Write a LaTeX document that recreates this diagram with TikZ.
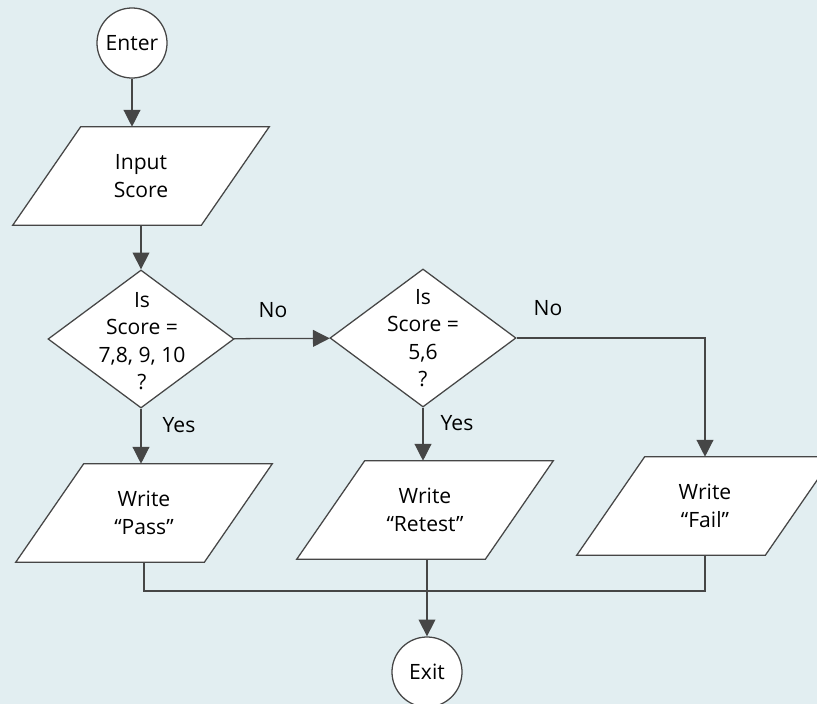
\documentclass[tikz,border=0pt]{standalone}
\usepackage{fontspec}
\setmainfont{Open Sans}
\usepackage{tikz}
\usetikzlibrary{shapes.geometric, arrows.meta, backgrounds}

\definecolor{paper}{RGB}{226,238,241}
\definecolor{ink}{RGB}{70,70,70}

\tikzset{
  terminal/.style={circle, draw=ink, fill=white, line width=0.9pt, minimum size=1.75cm, inner sep=0pt},
  decision/.style={diamond, draw=ink, fill=white, line width=0.9pt, minimum width=4.65cm, minimum height=3.45cm, inner sep=0pt},
  iotext/.style={rectangle, minimum width=4.7cm, minimum height=2.45cm, inner sep=0pt, align=center},
  iobox/.style={draw=ink, fill=white, line width=0.9pt},
  link/.style={draw=ink, line width=0.9pt},
  flow/.style={link, -{Triangle[length=0.42cm, width=0.42cm]}},
}

\begin{document}
\begin{tikzpicture}[x=0.025cm, y=-0.025cm, font=\fontsize{15}{19.5}\selectfont]
  \useasboundingbox (0,0) rectangle (817,704);
  % start and read
  \node[terminal] (enter) at (132,43) {Enter};
  \node[iotext] (input) at (141,176) {Input\\Score};
  % the two tests
  \node[decision] (isgood) at (141,339) {};
  \node[align=center] (isgoodq) at (142,341) {Is\\Score =\\7,8, 9, 10\\?};
  \node[decision] (isfair) at (423,338) {};
  \node[align=center] (isfairq) at (423,338) {Is\\Score =\\5,6\\?};
  % outputs
  \node[iotext] (pass) at (144,513) {Write\\``Pass''};
  \node[iotext] (retest) at (425,510) {Write\\``Retest''};
  \node[iotext] (fail) at (705,506) {Write\\``Fail''};
  \node[terminal] (exit) at (427,672) {Exit};
  % branch labels
  \node (no1) at (273,310) {No};
  \node (no2) at (548,308) {No};
  \node (yes1) at (179,425) {Yes};
  \node (yes2) at (457,423) {Yes};
  \coordinate (join) at (427,591);

  \begin{scope}[on background layer]
    \fill[paper] (0,0) rectangle (817,704);
    \foreach \io in {input,pass,retest,fail}
      \draw[iobox] ([xshift=-0.85cm]\io.south west) -- ([xshift=-0.85cm]\io.south east)
                -- ([xshift=0.85cm]\io.north east) -- ([xshift=0.85cm]\io.north west) -- cycle;
  \end{scope}

  \draw[flow] (enter.south) -- (enter.south |- input.north);
  \draw[flow] (input) -- (isgood);
  \draw[flow] (isgood) -- (isfair);
  \draw[flow] (isgood.south) -- (isgood.south |- pass.north);
  \draw[flow] (isfair.south) -- (isfair.south |- retest.north);
  \draw[flow] (isfair.east) -| (fail.north);
  \draw[link] (pass.south) |- (join) -| (fail.south);
  \draw[flow] (retest.south -| exit) -- (exit.north);
\end{tikzpicture}
\end{document}
